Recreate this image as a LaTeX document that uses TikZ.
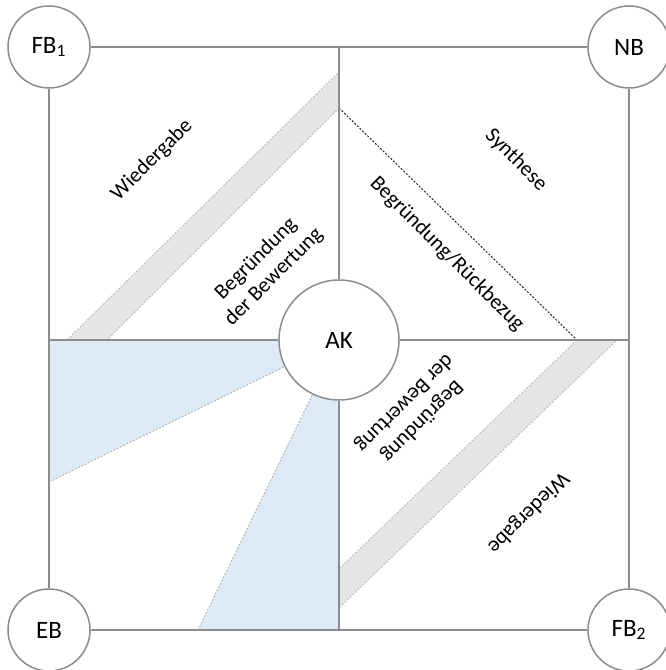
\documentclass[tikz,border=0pt]{standalone}
\usepackage{fontspec}
\setmainfont{Carlito}
\usetikzlibrary{calc}
\definecolor{rahmen}{HTML}{8C8C8C}
\definecolor{hellblau}{HTML}{DEEBF7}
\definecolor{hellgrau}{HTML}{E6E6E6}
\tikzset{
	kreis/.style={circle, draw=rahmen, fill=white, line width=0.75pt, inner sep=0pt, minimum size=41pt, font=\fontsize{12.5}{15}\selectfont},
	linie/.style={draw=rahmen, line width=0.75pt},
	band/.style={fill=hellgrau, draw=rahmen!60, dash pattern=on 1pt off 0.8pt, line width=0.45pt},
	punkt/.style={draw=rahmen!70, dash pattern=on 1pt off 0.8pt, line width=0.45pt},
	feld/.style={fill=hellblau},
	etikett/.style={font=\fontsize{10.7}{12.5}\selectfont, align=center},
}

\begin{document}
\begin{tikzpicture}[x=0.5pt, y=0.5pt]
		%%%%% START %%%%%
		\useasboundingbox (0, 0) rectangle (665, 670);
		
		% Flaechen
		\fill[feld] (49, 330) -- (339, 330) -- (49, 188) -- cycle;
		\fill[feld] (198, 40) -- (339, 40) -- (339, 330) -- cycle;
		\filldraw[band] (67, 330) -- (339, 598) -- (339, 562) -- (107, 330) -- cycle;
		\filldraw[band] (577, 330) -- (340, 102) -- (340, 63) -- (617, 330) -- cycle;
		
		\coordinate (b1) at (49, 188);
		\coordinate (b2) at (198, 40);
		\coordinate (sp) at (339, 562);
		\coordinate (sr) at (577, 330);
		\draw[black!85, dash pattern=on 1pt off 0.8pt, line width=0.5pt] (sp) -- (sr);
		
		% Kreise
		\node[kreis] (FB1) at (49, 623) {FB\textsubscript{1}};
		\node[kreis] (NB) at (629, 623) {NB};
		\node[kreis] (EB) at (49, 40) {EB};
		\node[kreis] (FB2) at (629, 40) {FB\textsubscript{2}};
		\node[kreis, minimum size=60pt] (AK) at (339, 330) {AK};
		
		\coordinate (oben) at (339, 623);
		\coordinate (unten) at (339, 40);
		\coordinate (links) at (49, 330);
		\coordinate (rechts) at (629, 330);
		
		% Rahmen und Kreuz
		\draw[linie] (FB1) -- (NB);
		\draw[linie] (NB) -- (FB2);
		\draw[linie] (FB2) -- (EB);
		\draw[linie] (EB) -- (FB1);
		\draw[linie] (AK) -- (oben);
		\draw[linie] (AK) -- (unten);
		\draw[linie] (AK) -- (links);
		\draw[linie] (AK) -- (rechts);
		
		\draw[punkt] (b1) -- (AK);
		\draw[punkt] (b2) -- (AK);
		
		% Beschriftung
		\node[etikett, rotate=45] (wg1) at (152, 510) {Wiedergabe};
		\node[etikett, rotate=45] (bb1) at (265, 402) {Begründung\\der Bewertung};
		\node[etikett, rotate=-45] (syn) at (516, 510) {Synthese};
		\node[etikett, rotate=-45] (br) at (447, 416) {Begründung/Rückbezug};
		\node[etikett, rotate=225] (bb2) at (413, 258) {Begründung\\der Bewertung};
		\node[etikett, rotate=225] (wg2) at (528, 157) {Wiedergabe};
		
		%%%%% END %%%%%
	\end{tikzpicture}
\end{document}
